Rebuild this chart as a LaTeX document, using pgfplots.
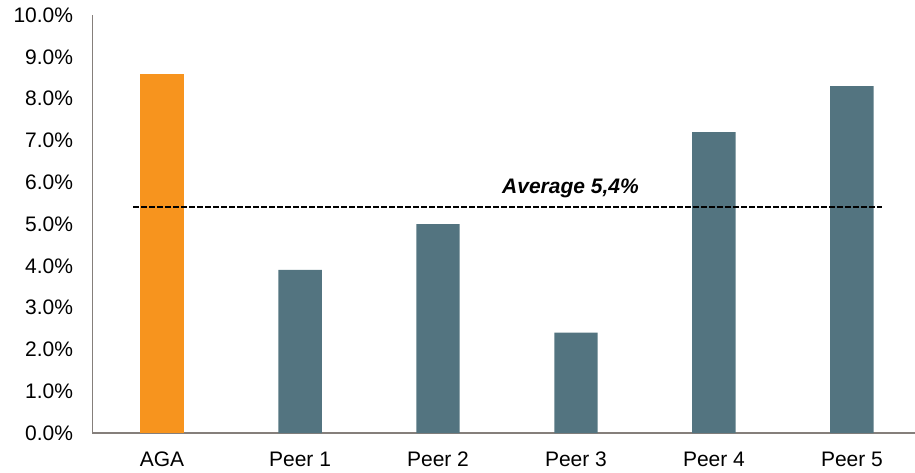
\documentclass[border=0pt]{standalone}
\usepackage{pgfplots}
\pgfplotsset{compat=1.18}
\usepackage{fontspec}
\setmainfont{Liberation Sans}
\definecolor{agaorange}{HTML}{F7941E}
\definecolor{peerslate}{HTML}{537480}
\definecolor{axisgray}{HTML}{857F7B}
\begin{document}
\fontsize{10.5}{12.6}\selectfont
\begin{tikzpicture}[x=0.5pt,y=0.5pt]
\path[use as bounding box] (0,0) rectangle (915,472);
\begin{axis}[
    at={(46.25pt,19.5pt)}, anchor=south west,
    scale only axis, width=411.25pt, height=209pt,
    xmin=-0.504, xmax=5.457, ymin=0, ymax=10,
    axis x line=bottom, axis y line=left,
    axis line style={draw=axisgray, line width=0.75pt, -},
    xtick={0,1,2,3,4,5},
    xticklabels={AGA, Peer 1, Peer 2, Peer 3, Peer 4, Peer 5},
    ytick={0,1,...,10},
    major tick length=0pt,
    yticklabel={\pgfmathprintnumber[fixed,fixed zerofill,precision=1]{\tick}\%},
    /pgf/number format/assume math mode=true,
    yticklabel style={font=\fontsize{10.5}{12.6}\selectfont, xshift=-6pt},
    xticklabel style={font=\fontsize{10.5}{12.6}\selectfont, yshift=-5pt,
        text height=8pt, text depth=2pt},
    clip=false,
]
\addplot[ybar, bar width=0.315, fill=agaorange, draw=none] coordinates {(0,8.6)};
\addplot[ybar, bar width=0.315, fill=peerslate, draw=none] coordinates {(1,3.9) (2,5.0) (3,2.4) (4,7.2) (5,8.3)};
\addplot[black, line width=1pt, dash pattern=on 3pt off 1pt] coordinates {(-0.21,5.4) (5.22,5.4)};
\node[font=\fontsize{10.5}{12.6}\selectfont\bfseries\itshape] at (axis cs:2.96,5.86) {Average 5,4\%};
\end{axis}
\end{tikzpicture}
\end{document}
